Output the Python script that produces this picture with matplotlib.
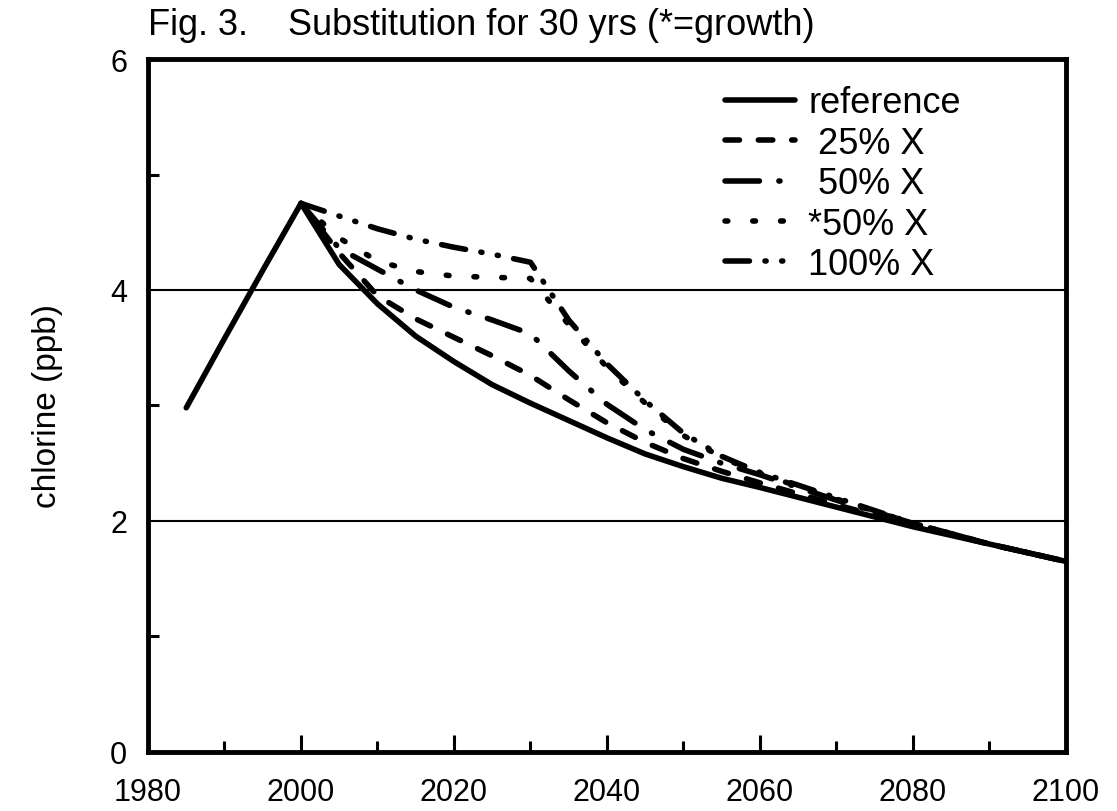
import matplotlib
matplotlib.use("Agg")
import matplotlib.pyplot as plt
from matplotlib.ticker import MultipleLocator

# chlorine loading (ppb)
years = [1985, 1990, 1995, 2000, 2005, 2010, 2015, 2020, 2025, 2030,
         2035, 2040, 2045, 2050, 2055, 2060, 2070, 2080, 2090, 2100]
reference = [2.98, 3.58, 4.17, 4.75, 4.22, 3.88, 3.6, 3.38, 3.18, 3.02,
             2.87, 2.72, 2.58, 2.47, 2.37, 2.29, 2.12, 1.95, 1.8, 1.65]

# substitution scenarios start at the 2000 peak
sub_years = years[3:]
x25 = [4.75, 4.32, 3.95, 3.75, 3.59, 3.43, 3.26, 3.05, 2.85, 2.68,
       2.54, 2.43, 2.33, 2.14, 1.96, 1.8, 1.65]
x50 = [4.75, 4.36, 4.18, 4.0, 3.85, 3.74, 3.62, 3.3, 3.01, 2.79,
       2.62, 2.5, 2.4, 2.18, 1.98, 1.8, 1.65]
x50_growth = [4.75, 4.45, 4.25, 4.16, 4.12, 4.11, 4.1, 3.7, 3.33, 3.02,
              2.74, 2.55, 2.41, 2.19, 1.98, 1.8, 1.65]
x100 = [4.75, 4.64, 4.53, 4.44, 4.37, 4.31, 4.24, 3.74, 3.36, 3.04,
        2.76, 2.56, 2.42, 2.2, 1.98, 1.8, 1.65]

labels = ["reference", " 25% X", " 50% X", "*50% X", "100% X"]

plt.rcParams['font.family'] = ['Liberation Sans', 'DejaVu Sans']

fig = plt.figure(figsize=(11.17, 8.12), dpi=100)
ax = fig.add_axes([0.1325, 0.0727, 0.8218, 0.8534])

lw = 4
ax.plot(years, reference, color='black', lw=lw, solid_capstyle='round', label=labels[0])
ax.plot(sub_years, x25, color='black', lw=lw, linestyle=(0, (2.6, 3.4)),
        dash_capstyle='round', label=labels[1])
ax.plot(sub_years, x50, color='black', lw=lw, linestyle=(0, (6.2, 3.5, 0.2, 3.5)),
        dash_capstyle='round', label=labels[2])
ax.plot(sub_years, x50_growth, color='black', lw=lw, linestyle=(0, (0.5, 4.5)),
        dash_capstyle='round', label=labels[3])
ax.plot(sub_years, x100, color='black', lw=lw, linestyle=(0, (4.4, 2.8, 0.2, 2.8, 0.2, 2.8)),
        dash_capstyle='round', label=labels[4])

ax.set_xlim(1980, 2100)
ax.set_ylim(0, 6)
ax.xaxis.set_major_locator(MultipleLocator(20))
ax.xaxis.set_minor_locator(MultipleLocator(10))
ax.yaxis.set_major_locator(MultipleLocator(2))
ax.yaxis.set_minor_locator(MultipleLocator(1))
ax.tick_params(axis='both', which='both', direction='in', width=2.2,
               top=False, right=False, labelsize=22)
ax.tick_params(axis='x', which='major', length=12, pad=18)
ax.tick_params(axis='x', which='minor', length=8)
ax.tick_params(axis='y', which='major', length=0, pad=15)
ax.tick_params(axis='y', which='minor', length=8)
ax.yaxis.grid(True, which='major', color='black', lw=1.5)

for s in ax.spines.values():
    s.set_linewidth(3.5)

ax.set_ylabel("chlorine (ppb)", fontsize=24, labelpad=34)
ax.set_title("Fig. 3.    Substitution for 30 yrs (*=growth)", fontsize=26,
             loc='left', x=0.0, pad=18)

ax.legend(loc='upper left', bbox_to_anchor=(0.6285, 0.962), frameon=False,
          fontsize=26, handlelength=1.95, handletextpad=0.36, labelspacing=0.15,
          borderpad=0, borderaxespad=0)

fig.savefig("out.png", dpi=100)
